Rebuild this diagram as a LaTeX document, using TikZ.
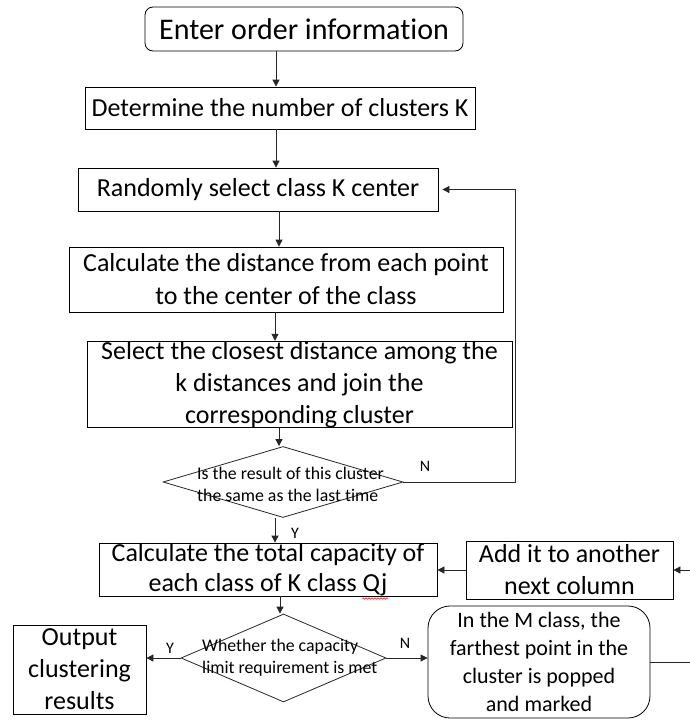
\documentclass[tikz,border=0pt]{standalone}
\usepackage{fontspec}
\setmainfont{Carlito}[Ligatures={NoCommon}]
\usetikzlibrary{arrows.meta,shapes.geometric,decorations.pathmorphing}
\begin{document}
\begin{tikzpicture}[x=1pt,y=-1pt,
  box/.style={draw=black,line width=0.8pt,inner sep=0pt,align=center,font=\fontsize{26}{32}\selectfont},
  dia/.style={draw=black!85,line width=0.8pt,diamond,inner sep=0pt},
  dtext/.style={inner sep=0pt,align=left,anchor=west,font=\fontsize{17.8}{22}\selectfont},
  arr/.style={draw=black!85,line width=0.8pt,-{Triangle[length=7pt,width=7pt]}},
  lbl/.style={inner sep=0pt,font=\fontsize{16}{18}\selectfont},
]
\useasboundingbox (0,0) rectangle (690,720);
\clip (0,0) rectangle (690,720);

% nodes
\node[box,rounded corners=8pt,minimum width=318pt,minimum height=44pt,font=\fontsize{30}{34}\selectfont] (b1) at (304,29) {Enter order information};
\node[box,minimum width=390pt,minimum height=42pt] (b2) at (280,108) {Determine the number of clusters K};
\node[box,minimum width=360pt,minimum height=43pt] (b3) at (258,189.5) {Randomly select class K center};
\node[box,minimum width=434pt,minimum height=65pt,font=\fontsize{26}{33}\selectfont] (b4) at (286,279.5) {Calculate the distance from each point\\to the center of the class};
\node[box,minimum width=425pt,minimum height=83pt] (b5) at (299.5,384.5) {Select the closest distance among the\\k distances and join the\\corresponding cluster};
\node[dia,minimum width=240pt,minimum height=71pt] (d1) at (283,482) {};
\node[dtext] (t1) at (197,484) {Is the result of this cluster\\the same as the last time};
\node[box,minimum width=338pt,minimum height=53pt,font=\fontsize{26}{30}\selectfont] (b6) at (268,569.5) {Calculate the total capacity of\\each class of K class Qj};
\node[box,minimum width=207pt,minimum height=58pt] (add) at (569.5,570) {Add it to another\\next column};
\node[dia,minimum width=205pt,minimum height=88pt] (d2) at (283.5,658) {};
\node[dtext] (t2) at (202,657.5) {Whether the capacity\\limit requirement is met};
\node[box,minimum width=133pt,minimum height=89pt] (out) at (79.5,669.5) {Output\\clustering\\results};
\node[box,rounded corners=22pt,minimum width=222pt,minimum height=112pt,font=\fontsize{22}{28}\selectfont] (mb) at (539,662) {In the M class, the\\farthest point in the\\cluster is popped\\and marked};

% helper x positions
\coordinate (x276) at (276,0);
\coordinate (x279) at (279,0);
\coordinate (x275) at (275,0);
\coordinate (x280) at (280,0);

% connectors
\draw[arr] (b1.south -| x276) -- (b2.north -| x276);
\draw[arr] (b2.south -| x276) -- (b3.north -| x276);
\draw[arr] (b3.south -| x279) -- (b4.north -| x279);
\draw[arr] (b4.south -| x275) -- (b5.north -| x275);
\draw[arr] (b5.south -| x279) -- (d1.north -| x279);
\draw[arr] (d1.east) -| ([xshift=77pt]b3.east) -- ([xshift=4pt]b3.east);
\draw[arr] (d1.south -| x275) -- (b6.north -| x275);
\draw[arr] (b6.south -| x280) -- (d2.north -| x280);
\draw[arr] (d2.west) -- (d2.west -| out.east);
\draw[arr] (d2.east) -- (d2.east -| mb.west);
\draw[arr] (add.west) -- (add.west -| b6.east);
\draw[arr] (mb.east) -- ++(60,0) |- (add.east);

% labels
\node[lbl] (n1) at (425,466) {N};
\node[lbl] (y1) at (295,533) {Y};
\node[lbl] (y2) at (170,648) {Y};
\node[lbl] (n2) at (405,643) {N};

% spell-check squiggle under Qj
\draw[red,line width=0.5pt,decorate,decoration={snake,amplitude=0.8pt,segment length=3pt}] (362,598.5) -- (388,598.5);
\end{tikzpicture}
\end{document}
